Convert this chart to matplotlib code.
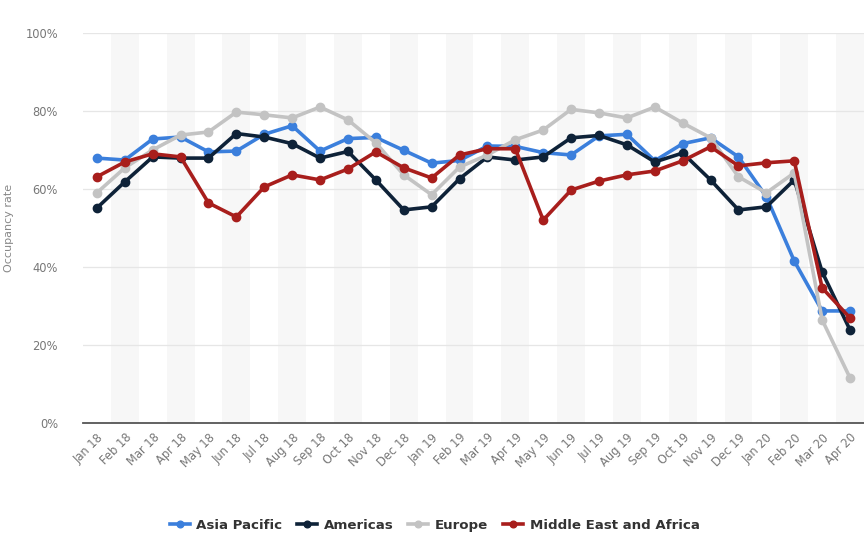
import matplotlib
matplotlib.use("Agg")
import matplotlib.pyplot as plt
from matplotlib.ticker import FuncFormatter

months = ["Jan 18", "Feb 18", "Mar 18", "Apr 18", "May 18", "Jun 18", "Jul 18", "Aug 18",
          "Sep 18", "Oct 18", "Nov 18", "Dec 18", "Jan 19", "Feb 19", "Mar 19", "Apr 19",
          "May 19", "Jun 19", "Jul 19", "Aug 19", "Sep 19", "Oct 19", "Nov 19", "Dec 19",
          "Jan 20", "Feb 20", "Mar 20", "Apr 20"]

asia_pacific = [67.9, 67.4, 72.8, 73.3, 69.5, 69.7, 74.0, 76.2, 69.7, 72.9, 73.2, 69.9,
                66.6, 67.3, 71.0, 70.9, 69.3, 68.7, 73.6, 74.0, 67.2, 71.6, 73.1, 68.2,
                58.0, 41.5, 28.7, 28.7]
americas = [55.1, 61.8, 68.2, 67.9, 67.9, 74.2, 73.3, 71.6, 67.9, 69.6, 62.3, 54.6,
            55.4, 62.6, 68.2, 67.4, 68.2, 73.1, 73.7, 71.3, 66.9, 69.2, 62.3, 54.6,
            55.4, 62.3, 38.7, 23.8]
europe = [59.0, 65.4, 70.0, 73.8, 74.6, 79.7, 79.0, 78.2, 81.0, 77.7, 71.8, 63.6,
          58.5, 65.6, 68.7, 72.6, 75.1, 80.4, 79.5, 78.2, 81.0, 76.9, 73.1, 63.1,
          59.0, 64.1, 26.4, 11.5]
mea = [63.1, 66.9, 69.0, 68.2, 56.4, 52.8, 60.5, 63.6, 62.3, 65.1, 69.5, 65.4,
       62.8, 68.7, 70.3, 70.3, 52.0, 59.7, 62.0, 63.6, 64.6, 67.2, 70.8, 65.9,
       66.7, 67.2, 34.6, 26.9]

series = [
    ("Asia Pacific", asia_pacific, "#3b7fdc"),
    ("Americas", americas, "#0e2238"),
    ("Europe", europe, "#c3c3c3"),
    ("Middle East and Africa", mea, "#a81e1c"),
]

fig = plt.figure(figsize=(8.64, 5.4), dpi=100)
ax = fig.add_axes([0.096, 0.217, 0.904, 0.722])

x = list(range(len(months)))

# alternating background bands
for i in x:
    if i % 2 == 1:
        ax.axvspan(i - 0.5, i + 0.5, color="#f7f7f7", zorder=0, lw=0)

for name, vals, col in series:
    ax.plot(x, vals, color=col, lw=2.6, marker="o", ms=6, label=name,
            solid_joinstyle="round", zorder=3)

ax.set_xlim(-0.5, len(months) - 0.5)
ax.set_ylim(0, 100)
ax.set_yticks([0, 20, 40, 60, 80, 100])
ax.yaxis.set_major_formatter(FuncFormatter(lambda v, p: f"{int(v)}%"))
ax.set_xticks(x)
ax.set_xticklabels(months, rotation=45, ha="right", rotation_mode="anchor")

ax.grid(axis="y", color="#e6e6e6", lw=0.9, zorder=1)
ax.set_axisbelow(True)
for s in ["top", "right", "left"]:
    ax.spines[s].set_visible(False)
ax.spines["bottom"].set_color("#555555")
ax.spines["bottom"].set_linewidth(1.3)
ax.spines["bottom"].set_zorder(4)

ax.tick_params(axis="both", length=0, colors="#777777", labelsize=8.3)
ax.tick_params(axis="y", pad=18)
ax.tick_params(axis="x", pad=6)
ax.set_ylabel("Occupancy rate", color="#888888", fontsize=8, labelpad=8)

handles, labels = ax.get_legend_handles_labels()
leg = fig.legend(handles, labels, loc="center", bbox_to_anchor=(0.503, 0.027), ncol=4,
                 frameon=False, fontsize=9.6, handlelength=1.5, columnspacing=1.1,
                 handletextpad=0.5, markerscale=0.8)
for t in leg.get_texts():
    t.set_color("#333333")
    t.set_fontweight("semibold")

fig.savefig("out.png", dpi=100)
